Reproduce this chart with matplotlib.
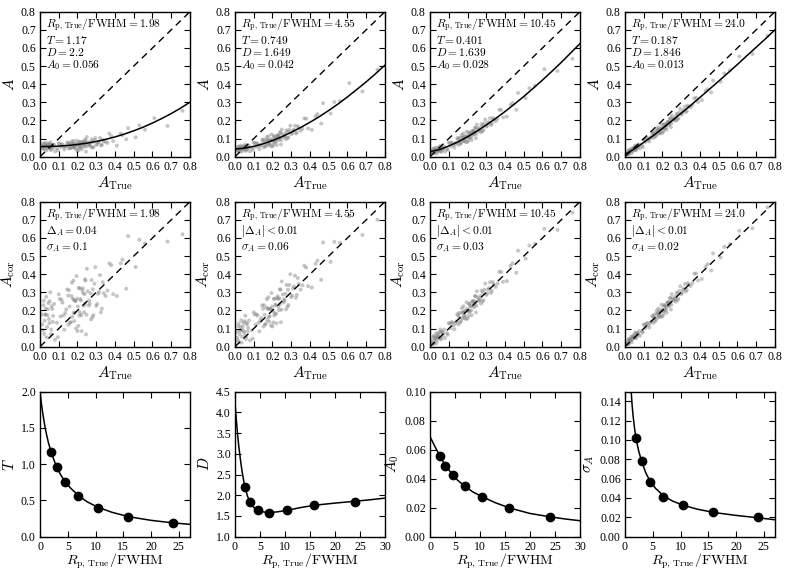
import matplotlib
matplotlib.use("Agg")
import matplotlib.pyplot as plt

plt.rcParams.update({
    "font.family": "serif",
    "font.serif": ["Liberation Serif", "DejaVu Serif"],
    "mathtext.fontset": "cm",
    "xtick.direction": "in", "ytick.direction": "in",
    "xtick.top": True, "ytick.right": True,
    "xtick.labelsize": 8.5, "ytick.labelsize": 8.5,
    "xtick.major.size": 4, "ytick.major.size": 4,
    "xtick.major.pad": 3, "ytick.major.pad": 3,
    "axes.linewidth": 1.0,
})

# ---------------- data ----------------
ratio_labels = ["1.98", "4.55", "10.45", "24.0"]
T_labels = ["1.17", "0.749", "0.401", "0.187"]
D_labels = ["2.2", "1.649", "1.639", "1.846"]
A0_labels = ["0.056", "0.042", "0.028", "0.013"]
delta_labels = [r"$\Delta_A = 0.04$", r"$|\Delta_A| < 0.01$", r"$|\Delta_A| < 0.01$", r"$|\Delta_A| < 0.01$"]
sigma_labels = ["0.1", "0.06", "0.03", "0.02"]

# sample of sources (batch a)
a_true = [0.01, 0.015, 0.02, 0.025, 0.03, 0.035, 0.04, 0.045, 0.05, 0.055, 0.06, 0.065, 0.07, 0.075, 0.08, 0.03,
          0.09, 0.10, 0.11, 0.12, 0.13, 0.14, 0.15, 0.16, 0.17, 0.18, 0.19, 0.20, 0.21, 0.22, 0.23, 0.24, 0.25,
          0.26, 0.27, 0.28, 0.29, 0.30, 0.31, 0.32, 0.33, 0.34, 0.095, 0.115, 0.135, 0.155, 0.165, 0.175, 0.185,
          0.195, 0.205, 0.215, 0.225, 0.235, 0.245, 0.255, 0.265, 0.275, 0.285, 0.18, 0.21, 0.24,
          0.36, 0.38, 0.41, 0.44, 0.47, 0.51, 0.56, 0.61, 0.68, 0.76]

a_obs_1 = [0.060, 0.044, 0.074, 0.053, 0.065, 0.035, 0.058, 0.070, 0.049, 0.080, 0.041, 0.062, 0.055, 0.067, 0.029, 0.059,
           0.048, 0.074, 0.053, 0.066, 0.040, 0.059, 0.072, 0.047, 0.084, 0.053, 0.068, 0.031, 0.084, 0.051, 0.078, 0.065, 0.109,
           0.064, 0.079, 0.051, 0.092, 0.065, 0.081, 0.104, 0.064, 0.083, 0.035, 0.069, 0.056, 0.077, 0.048, 0.069, 0.056,
           0.089, 0.038, 0.071, 0.082, 0.055, 0.028, 0.081, 0.066, 0.096, 0.053, 0.070, 0.050, 0.095,
           0.076, 0.113, 0.061, 0.119, 0.158, 0.107, 0.149, 0.213, 0.170, 0.253]
a_obs_2 = [0.046, 0.033, 0.057, 0.041, 0.051, 0.028, 0.046, 0.057, 0.041, 0.067, 0.037, 0.055, 0.049, 0.059, 0.030, 0.046,
           0.048, 0.079, 0.054, 0.072, 0.041, 0.068, 0.087, 0.057, 0.108, 0.074, 0.091, 0.057, 0.113, 0.083, 0.114, 0.104, 0.150,
           0.109, 0.128, 0.103, 0.148, 0.125, 0.144, 0.171, 0.134, 0.158, 0.038, 0.075, 0.062, 0.095, 0.058, 0.090, 0.075,
           0.123, 0.065, 0.101, 0.115, 0.092, 0.068, 0.124, 0.113, 0.146, 0.107, 0.090, 0.079, 0.134,
           0.154, 0.210, 0.148, 0.235, 0.295, 0.238, 0.307, 0.406, 0.360, 0.480]
a_obs_3 = [0.033, 0.020, 0.045, 0.030, 0.040, 0.018, 0.037, 0.048, 0.033, 0.060, 0.031, 0.049, 0.045, 0.056, 0.028, 0.035,
           0.043, 0.078, 0.057, 0.076, 0.050, 0.077, 0.097, 0.072, 0.120, 0.092, 0.110, 0.081, 0.134, 0.109, 0.139, 0.133, 0.177,
           0.143, 0.162, 0.141, 0.184, 0.166, 0.186, 0.212, 0.182, 0.205, 0.038, 0.078, 0.071, 0.105, 0.074, 0.105, 0.095,
           0.139, 0.090, 0.124, 0.139, 0.121, 0.102, 0.156, 0.147, 0.180, 0.147, 0.106, 0.103, 0.160,
           0.209, 0.258, 0.221, 0.296, 0.352, 0.323, 0.392, 0.483, 0.473, 0.540]
a_obs_4 = [0.021, 0.013, 0.036, 0.025, 0.036, 0.019, 0.037, 0.049, 0.038, 0.063, 0.040, 0.058, 0.056, 0.068, 0.046, 0.032,
           0.062, 0.096, 0.082, 0.102, 0.084, 0.109, 0.129, 0.111, 0.155, 0.134, 0.153, 0.132, 0.179, 0.162, 0.189, 0.188, 0.227,
           0.202, 0.220, 0.206, 0.245, 0.232, 0.251, 0.277, 0.253, 0.276, 0.053, 0.101, 0.103, 0.138, 0.115, 0.144, 0.138,
           0.179, 0.141, 0.173, 0.188, 0.175, 0.163, 0.210, 0.207, 0.236, 0.211, 0.146, 0.154, 0.210,
           0.285, 0.325, 0.312, 0.372, 0.420, 0.414, 0.476, 0.553, 0.567, 0.667]

a_cor_1 = [0.178, 0.092, 0.254, 0.144, 0.210, 0.052, 0.174, 0.240, 0.130, 0.300, 0.094, 0.208, 0.170, 0.236, 0.038, 0.178,
           0.132, 0.289, 0.167, 0.243, 0.094, 0.206, 0.282, 0.133, 0.353, 0.186, 0.253, 0.086, 0.324, 0.175, 0.296, 0.237, 0.430,
           0.227, 0.294, 0.163, 0.347, 0.225, 0.292, 0.395, 0.210, 0.295, 0.053, 0.259, 0.186, 0.311, 0.135, 0.265, 0.188,
           0.390, 0.115, 0.263, 0.312, 0.190, 0.068, 0.306, 0.238, 0.368, 0.174, 0.258, 0.171, 0.372,
           0.310, 0.450, 0.280, 0.480, 0.610, 0.440, 0.570, 0.750, 0.580, 0.620]
a_cor_2 = [0.081, 0.035, 0.128, 0.069, 0.108, 0.022, 0.092, 0.132, 0.073, 0.171, 0.057, 0.124, 0.104, 0.144, 0.035, 0.090,
           0.090, 0.190, 0.121, 0.172, 0.085, 0.158, 0.209, 0.123, 0.262, 0.164, 0.210, 0.112, 0.265, 0.182, 0.263, 0.235, 0.360,
           0.244, 0.292, 0.220, 0.340, 0.273, 0.321, 0.392, 0.286, 0.346, 0.044, 0.179, 0.144, 0.229, 0.126, 0.210, 0.168,
           0.296, 0.134, 0.232, 0.269, 0.202, 0.135, 0.288, 0.254, 0.341, 0.230, 0.208, 0.172, 0.317,
           0.339, 0.436, 0.326, 0.475, 0.575, 0.468, 0.574, 0.720, 0.617, 0.700]
a_cor_3 = [0.034, 0.016, 0.060, 0.036, 0.056, 0.020, 0.054, 0.074, 0.050, 0.096, 0.048, 0.080, 0.074, 0.094, 0.048, 0.048,
           0.075, 0.131, 0.102, 0.134, 0.096, 0.140, 0.172, 0.135, 0.212, 0.169, 0.198, 0.155, 0.238, 0.200, 0.247, 0.237, 0.306,
           0.252, 0.281, 0.249, 0.315, 0.286, 0.316, 0.356, 0.308, 0.343, 0.066, 0.135, 0.129, 0.186, 0.140, 0.189, 0.174,
           0.245, 0.169, 0.223, 0.247, 0.218, 0.189, 0.272, 0.259, 0.309, 0.257, 0.191, 0.190, 0.279,
           0.348, 0.412, 0.362, 0.460, 0.530, 0.486, 0.568, 0.650, 0.644, 0.740]
a_cor_4 = [0.023, 0.014, 0.042, 0.030, 0.044, 0.025, 0.047, 0.061, 0.049, 0.079, 0.052, 0.073, 0.072, 0.086, 0.060, 0.039,
           0.084, 0.122, 0.104, 0.130, 0.106, 0.140, 0.166, 0.142, 0.200, 0.172, 0.196, 0.168, 0.230, 0.206, 0.242, 0.238, 0.290,
           0.254, 0.278, 0.258, 0.308, 0.290, 0.314, 0.346, 0.314, 0.342, 0.078, 0.129, 0.131, 0.177, 0.147, 0.185, 0.177,
           0.231, 0.179, 0.221, 0.241, 0.223, 0.205, 0.267, 0.261, 0.299, 0.265, 0.188, 0.196, 0.268,
           0.351, 0.404, 0.374, 0.455, 0.515, 0.492, 0.566, 0.640, 0.653, 0.769]

# second batch of sources (dense cores of the clouds)
a_true_b = [0.012, 0.018, 0.022, 0.028, 0.033, 0.038, 0.042, 0.048, 0.052, 0.058, 0.062, 0.068,
            0.105, 0.125, 0.145, 0.152, 0.158, 0.168, 0.172, 0.178, 0.183, 0.188, 0.192, 0.198, 0.202, 0.208,
            0.212, 0.218, 0.222, 0.228, 0.232, 0.238, 0.243, 0.248, 0.262, 0.272, 0.282, 0.295, 0.305, 0.315,
            0.325, 0.335, 0.35, 0.37, 0.39, 0.43, 0.46, 0.53]
a_obs_1b = [0.050, 0.070, 0.040, 0.059, 0.077, 0.046, 0.064, 0.053, 0.071, 0.037, 0.065, 0.049,
            0.070, 0.055, 0.078, 0.046, 0.063, 0.072, 0.053, 0.086, 0.049, 0.067, 0.042, 0.069, 0.062, 0.079,
            0.057, 0.068, 0.040, 0.080, 0.064, 0.075, 0.088, 0.057, 0.070, 0.054, 0.082, 0.103, 0.070, 0.082,
            0.064, 0.093, 0.083, 0.128, 0.086, 0.128, 0.096, 0.173]
a_obs_2b = [0.037, 0.054, 0.030, 0.046, 0.061, 0.037, 0.051, 0.045, 0.059, 0.032, 0.056, 0.044,
            0.074, 0.058, 0.094, 0.052, 0.076, 0.092, 0.067, 0.113, 0.065, 0.091, 0.058, 0.096, 0.088, 0.112,
            0.084, 0.100, 0.064, 0.119, 0.099, 0.115, 0.133, 0.093, 0.116, 0.097, 0.138, 0.171, 0.130, 0.149,
            0.128, 0.169, 0.144, 0.211, 0.156, 0.223, 0.183, 0.302]
a_obs_3b = [0.025, 0.042, 0.019, 0.035, 0.051, 0.027, 0.042, 0.036, 0.052, 0.026, 0.050, 0.039,
            0.074, 0.064, 0.102, 0.065, 0.089, 0.105, 0.083, 0.127, 0.085, 0.108, 0.081, 0.116, 0.109, 0.133,
            0.108, 0.125, 0.092, 0.143, 0.125, 0.142, 0.160, 0.126, 0.149, 0.134, 0.173, 0.205, 0.171, 0.190,
            0.175, 0.214, 0.196, 0.259, 0.217, 0.285, 0.259, 0.378]
a_obs_4b = [0.016, 0.032, 0.014, 0.031, 0.045, 0.028, 0.042, 0.039, 0.054, 0.035, 0.057, 0.050,
            0.095, 0.093, 0.130, 0.103, 0.124, 0.141, 0.124, 0.162, 0.129, 0.151, 0.129, 0.160, 0.157, 0.178,
            0.159, 0.174, 0.149, 0.193, 0.180, 0.196, 0.212, 0.184, 0.208, 0.198, 0.234, 0.265, 0.238, 0.258,
            0.246, 0.282, 0.273, 0.322, 0.302, 0.362, 0.355, 0.459]
a_cor_1b = [0.123, 0.229, 0.071, 0.177, 0.275, 0.109, 0.207, 0.153, 0.251, 0.069, 0.223, 0.137,
            0.264, 0.173, 0.316, 0.121, 0.222, 0.280, 0.165, 0.365, 0.142, 0.252, 0.101, 0.265, 0.222, 0.323,
            0.190, 0.255, 0.086, 0.322, 0.225, 0.290, 0.364, 0.177, 0.255, 0.151, 0.317, 0.439, 0.236, 0.303,
            0.190, 0.356, 0.280, 0.460, 0.290, 0.460, 0.320, 0.590]
a_cor_2b = [0.050, 0.113, 0.026, 0.089, 0.146, 0.055, 0.112, 0.085, 0.141, 0.042, 0.130, 0.085,
            0.178, 0.131, 0.228, 0.111, 0.176, 0.216, 0.147, 0.273, 0.139, 0.208, 0.117, 0.221, 0.197, 0.263,
            0.185, 0.229, 0.129, 0.278, 0.221, 0.266, 0.315, 0.204, 0.262, 0.206, 0.315, 0.400, 0.283, 0.332,
            0.270, 0.379, 0.315, 0.447, 0.334, 0.458, 0.369, 0.579]
a_cor_3b = [0.022, 0.052, 0.016, 0.046, 0.074, 0.036, 0.064, 0.054, 0.082, 0.040, 0.082, 0.064,
            0.127, 0.117, 0.179, 0.124, 0.161, 0.188, 0.155, 0.223, 0.158, 0.196, 0.153, 0.209, 0.199, 0.236,
            0.198, 0.224, 0.174, 0.253, 0.226, 0.252, 0.279, 0.226, 0.262, 0.238, 0.299, 0.348, 0.294, 0.323,
            0.297, 0.357, 0.330, 0.414, 0.358, 0.446, 0.408, 0.558]
a_cor_4b = [0.016, 0.037, 0.017, 0.038, 0.057, 0.036, 0.054, 0.051, 0.069, 0.047, 0.073, 0.065,
            0.121, 0.119, 0.169, 0.132, 0.160, 0.182, 0.160, 0.210, 0.165, 0.194, 0.164, 0.206, 0.200, 0.228,
            0.202, 0.222, 0.188, 0.246, 0.228, 0.248, 0.269, 0.232, 0.262, 0.248, 0.294, 0.333, 0.297, 0.321,
            0.305, 0.351, 0.335, 0.403, 0.366, 0.442, 0.421, 0.551]

# fitted relations
fit_x = [0.0, 0.05, 0.10, 0.15, 0.20, 0.25, 0.30, 0.35, 0.40, 0.45, 0.50, 0.55, 0.60, 0.65, 0.70, 0.75, 0.80]
fit_1 = [0.056, 0.0566, 0.0585, 0.0622, 0.0676, 0.075, 0.0843, 0.0958, 0.109, 0.125, 0.143, 0.163, 0.186, 0.211, 0.238, 0.268, 0.301]
fit_2 = [0.042, 0.047, 0.057, 0.071, 0.089, 0.110, 0.135, 0.161, 0.190, 0.221, 0.255, 0.291, 0.330, 0.371, 0.413, 0.458, 0.505]
fit_3 = [0.028, 0.039, 0.059, 0.082, 0.110, 0.141, 0.175, 0.211, 0.249, 0.290, 0.332, 0.377, 0.423, 0.471, 0.520, 0.572, 0.624]
fit_4 = [0.013, 0.043, 0.079, 0.116, 0.156, 0.198, 0.240, 0.283, 0.327, 0.372, 0.417, 0.463, 0.509, 0.557, 0.604, 0.651, 0.700]

# parameters vs R_p,True/FWHM
ratio = [1.98, 3.05, 4.55, 6.9, 10.45, 15.9, 24.0]
T_pts = [1.17, 0.956, 0.749, 0.566, 0.401, 0.271, 0.187]
D_pts = [2.2, 1.84, 1.649, 1.58, 1.639, 1.76, 1.846]
A0_pts = [0.0555, 0.0488, 0.0422, 0.0352, 0.0276, 0.0196, 0.0135]
sig_pts = [0.102, 0.078, 0.057, 0.0415, 0.0325, 0.0255, 0.020]

T_cx = [0, 0.25, 0.5, 0.75, 1.0, 1.5, 2.0, 2.5, 3.0, 3.75, 4.55, 5.5, 6.9, 8.5, 10.45, 13, 16, 20, 24, 27]
T_cy = [2.0, 1.84, 1.70, 1.58, 1.47, 1.30, 1.17, 1.06, 0.96, 0.85, 0.755, 0.67, 0.57, 0.48, 0.405, 0.335, 0.275, 0.225, 0.19, 0.17]
D_cx = [0, 0.25, 0.5, 0.75, 1.0, 1.25, 1.5, 1.75, 2.0, 2.5, 3.0, 3.5, 4.0, 4.55, 5.5, 6.9, 8.5, 10.45, 13, 16, 20, 24, 27, 30]
D_cy = [4.25, 3.85, 3.5, 3.2, 2.95, 2.72, 2.52, 2.35, 2.2, 1.98, 1.84, 1.74, 1.68, 1.64, 1.6, 1.58, 1.6, 1.635, 1.7, 1.76, 1.81, 1.855, 1.89, 1.93]
A0_cx = [0, 1, 2, 3, 4.55, 5.5, 6.9, 8.5, 10.45, 13, 16, 20, 24, 27, 30]
A0_cy = [0.069, 0.062, 0.0555, 0.0495, 0.0425, 0.039, 0.035, 0.031, 0.0275, 0.0235, 0.0197, 0.016, 0.0137, 0.0122, 0.011]
sig_cx = [1.05, 1.3, 1.5, 1.75, 2.0, 2.5, 3.0, 3.75, 4.55, 5.5, 6.9, 8.5, 10.45, 13, 16, 20, 24, 27]
sig_cy = [0.156, 0.135, 0.123, 0.111, 0.101, 0.088, 0.078, 0.066, 0.057, 0.050, 0.0425, 0.037, 0.0325, 0.0285, 0.025, 0.022, 0.0195, 0.0175]

amp_ticks = [0.0, 0.1, 0.2, 0.3, 0.4, 0.5, 0.6, 0.7, 0.8]

# ---------------- layout ----------------
fig = plt.figure(figsize=(7.89, 5.73), dpi=100)
lefts = [0.0507, 0.2978, 0.545, 0.7921]
bottoms = [0.7265, 0.3949, 0.0634]
W, H = 0.1901, 0.2531

ratio_lab = r"$R_{\rm p,\,True}/{\rm FWHM}$"
sc_kw = dict(s=8, c="0.5", alpha=0.45, edgecolors="none", zorder=1)
txt_kw = dict(fontsize=8.3, va="center", ha="left")
top_ys = [0.908, 0.80, 0.715, 0.63]
mid_ys = [0.908, 0.80, 0.688]

top_obs = [(a_obs_1, a_obs_1b), (a_obs_2, a_obs_2b), (a_obs_3, a_obs_3b), (a_obs_4, a_obs_4b)]
top_fit = [fit_1, fit_2, fit_3, fit_4]
mid_cor = [(a_cor_1, a_cor_1b), (a_cor_2, a_cor_2b), (a_cor_3, a_cor_3b), (a_cor_4, a_cor_4b)]


def amp_axes(ax, ylab):
    ax.plot([amp_ticks[0], amp_ticks[-1]], [amp_ticks[0], amp_ticks[-1]], color="k", lw=1.0,
            dashes=(5, 3.5), zorder=2)
    ax.set_xlim(amp_ticks[0], amp_ticks[-1]); ax.set_ylim(amp_ticks[0], amp_ticks[-1])
    ax.set_xticks(amp_ticks); ax.set_yticks(amp_ticks)
    ax.set_xlabel(r"$A_{\rm True}$", fontsize=11, labelpad=1)
    ax.set_ylabel(ylab, fontsize=11, labelpad=3)


for i in range(4):
    # top row
    ax = fig.add_axes([lefts[i], bottoms[0], W, H])
    ya, yb = top_obs[i]
    ax.scatter(a_true, ya, **sc_kw)
    ax.scatter(a_true_b, yb, **sc_kw)
    ax.plot(fit_x, top_fit[i], color="k", lw=1.1, zorder=3)
    amp_axes(ax, r"$A$")
    lines = [r"$R_{\rm p,\,True}/{\rm FWHM} = %s$" % ratio_labels[i],
             r"$T = %s$" % T_labels[i], r"$D = %s$" % D_labels[i], r"$A_0 = %s$" % A0_labels[i]]
    for yy, s in zip(top_ys, lines):
        ax.text(0.04, yy, s, transform=ax.transAxes, **txt_kw)

    # middle row
    ax = fig.add_axes([lefts[i], bottoms[1], W, H])
    ya, yb = mid_cor[i]
    ax.scatter(a_true, ya, **sc_kw)
    ax.scatter(a_true_b, yb, **sc_kw)
    amp_axes(ax, r"$A_{\rm cor}$")
    lines = [r"$R_{\rm p,\,True}/{\rm FWHM} = %s$" % ratio_labels[i],
             delta_labels[i], r"$\sigma_A = %s$" % sigma_labels[i]]
    for yy, s in zip(mid_ys, lines):
        ax.text(0.04, yy, s, transform=ax.transAxes, **txt_kw)

# bottom row
bottom_specs = [
    (T_cx, T_cy, T_pts, r"$T$", (0, 27), (0, 2.0), [0, 5, 10, 15, 20, 25], [0.0, 0.5, 1.0, 1.5, 2.0], "%.1f"),
    (D_cx, D_cy, D_pts, r"$D$", (0, 30), (1.0, 4.5), [0, 5, 10, 15, 20, 25, 30], [1.0, 1.5, 2.0, 2.5, 3.0, 3.5, 4.0, 4.5], "%.1f"),
    (A0_cx, A0_cy, A0_pts, r"$A_0$", (0, 30), (0, 0.10), [0, 5, 10, 15, 20, 25, 30], [0.0, 0.02, 0.04, 0.06, 0.08, 0.10], "%.2f"),
    (sig_cx, sig_cy, sig_pts, r"$\sigma_A$", (0, 27), (0, 0.15), [0, 5, 10, 15, 20, 25], [0.0, 0.02, 0.04, 0.06, 0.08, 0.10, 0.12, 0.14], "%.2f"),
]
for i, (cx, cy, pts, ylab, xl, yl, xt, yt, fmt) in enumerate(bottom_specs):
    ax = fig.add_axes([lefts[i], bottoms[2], W, H])
    ax.plot(cx, cy, color="k", lw=1.1, zorder=2)
    ax.plot(ratio, pts, "o", color="k", ms=6, zorder=3)
    ax.set_xlim(*xl); ax.set_ylim(*yl)
    ax.set_xticks(xt); ax.set_yticks(yt)
    ax.set_yticklabels([fmt % v for v in yt])
    ax.set_xlabel(ratio_lab, fontsize=10, labelpad=-1)
    ax.set_ylabel(ylab, fontsize=11, labelpad=3)

fig.savefig("out.png", dpi=100)
